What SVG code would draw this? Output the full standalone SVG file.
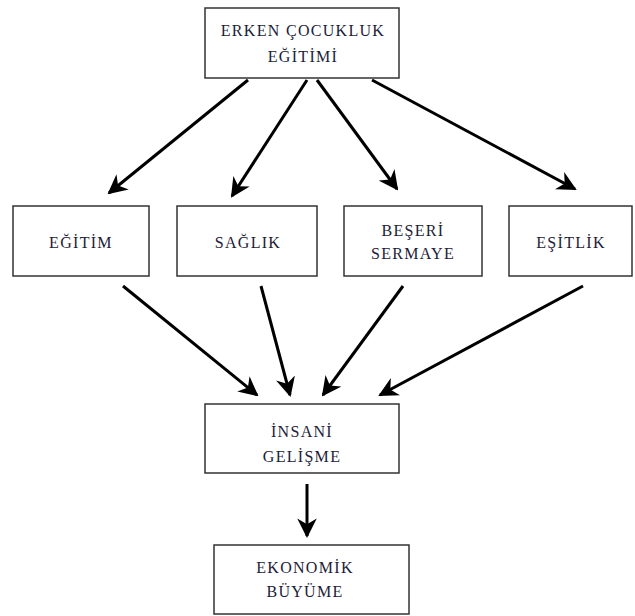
<svg xmlns="http://www.w3.org/2000/svg" width="635" height="616" viewBox="0 0 635 616">
<style>
.box{fill:#fff;stroke:#333;stroke-width:1.5}
.t{font-family:"Liberation Serif","Times New Roman",serif;font-size:16px;fill:#1c1c38;text-anchor:middle;letter-spacing:1.3px}
.c{stroke:#000;stroke-width:3;fill:none;marker-end:url(#ah)}
</style>
<defs>
<marker id="ah" viewBox="0 0 10 10" refX="9" refY="5" markerWidth="6.5" markerHeight="6.5" markerUnits="strokeWidth" orient="auto">
<path d="M0,0 L10,5 L0,10 L3,5 z" fill="#000"/>
</marker>
</defs>
<rect width="635" height="616" fill="#fff"/>
<g id="connectors">
<line class="c" x1="248" y1="80" x2="109" y2="193"/>
<line class="c" x1="307" y1="80" x2="232" y2="196"/>
<line class="c" x1="317" y1="80" x2="397" y2="189"/>
<line class="c" x1="372" y1="80" x2="575" y2="189"/>
<line class="c" x1="123" y1="286" x2="257" y2="395"/>
<line class="c" x1="261" y1="286" x2="290" y2="395"/>
<line class="c" x1="403" y1="286" x2="323" y2="395"/>
<line class="c" x1="583" y1="286" x2="380" y2="395"/>
<line class="c" x1="307" y1="484" x2="307" y2="536"/>
</g>
<g id="ece">
<rect class="box" x="205" y="8" width="194" height="70"/>
<text class="t" x="303" y="36">ERKEN ÇOCUKLUK</text>
<text class="t" x="303" y="62">EĞİTİMİ</text>
</g>
<g id="egitim">
<rect class="box" x="13" y="206" width="136" height="70"/>
<text class="t" x="81" y="248">EĞİTİM</text>
</g>
<g id="saglik">
<rect class="box" x="177" y="206" width="140" height="70"/>
<text class="t" x="248" y="248">SAĞLIK</text>
</g>
<g id="beseri">
<rect class="box" x="344" y="206" width="138" height="70"/>
<text class="t" x="413" y="236">BEŞERİ</text>
<text class="t" x="413" y="259">SERMAYE</text>
</g>
<g id="esitlik">
<rect class="box" x="509" y="206" width="123" height="70"/>
<text class="t" x="571" y="248">EŞİTLİK</text>
</g>
<g id="insani">
<rect class="box" x="205" y="404" width="194" height="69"/>
<text class="t" x="302" y="437">İNSANİ</text>
<text class="t" x="302" y="462">GELİŞME</text>
</g>
<g id="ekonomik">
<rect class="box" x="214" y="545" width="195" height="69"/>
<text class="t" x="305" y="573">EKONOMİK</text>
<text class="t" x="305" y="597">BÜYÜME</text>
</g>
</svg>
